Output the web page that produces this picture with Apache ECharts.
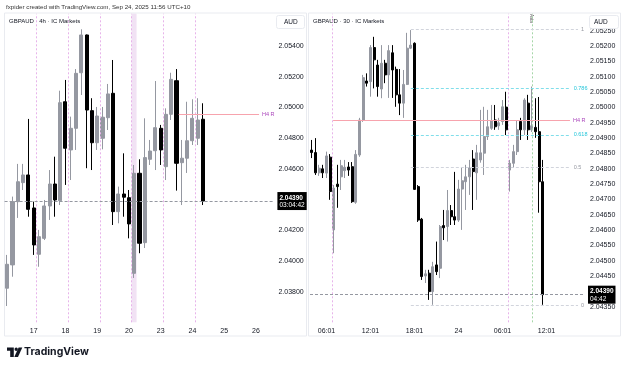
<!DOCTYPE html>
<html>
<head>
<meta charset="utf-8">
<script src="https://cdn.jsdelivr.net/npm/echarts@6/dist/echarts.min.js"></script>
<style>
  html, body { margin: 0; padding: 0; background: #fff; }
  #chart { width: 625px; height: 367px; }
</style>
</head>
<body>
<div id="chart"></div>
<script>
// GBPAUD 4h candles: [open, close, low, high]
const h4Candles = [
  [2.03822, 2.03978, 2.03706, 2.04039],
  [2.03974, 2.04386, 2.03897, 2.04419],
  [2.04386, 2.04516, 2.04280, 2.04632],
  [2.04510, 2.04560, 2.04462, 2.04632],
  [2.04560, 2.04336, 2.04288, 2.04925],
  [2.04345, 2.04104, 2.04039, 2.04386],
  [2.04043, 2.04158, 2.03962, 2.04202],
  [2.04147, 2.04358, 2.04136, 2.04397],
  [2.04358, 2.04501, 2.04267, 2.04592],
  [2.04501, 2.04397, 2.04288, 2.04679],
  [2.04392, 2.05031, 2.04364, 2.05109],
  [2.05037, 2.04734, 2.04495, 2.05179],
  [2.04723, 2.04864, 2.04527, 2.04940],
  [2.04864, 2.05222, 2.04723, 2.05250],
  [2.05226, 2.05472, 2.05081, 2.05509],
  [2.05472, 2.04983, 2.04604, 2.05475],
  [2.04979, 2.04770, 2.04592, 2.05060],
  [2.04770, 2.04944, 2.04723, 2.05003],
  [2.04799, 2.04936, 2.04727, 2.05003],
  [2.04933, 2.05088, 2.04853, 2.05153],
  [2.05092, 2.04321, 2.04234, 2.05309],
  [2.04321, 2.04436, 2.04245, 2.04484],
  [2.04436, 2.04415, 2.04288, 2.04701],
  [2.04412, 2.04241, 2.04147, 2.04462],
  [2.03919, 2.04571, 2.03889, 2.04625],
  [2.04571, 2.04115, 2.04050, 2.04662],
  [2.04119, 2.04673, 2.04084, 2.04929],
  [2.04662, 2.04716, 2.04625, 2.04788],
  [2.04718, 2.04868, 2.04592, 2.05172],
  [2.04864, 2.04723, 2.04625, 2.04886],
  [2.04614, 2.04955, 2.04527, 2.04994],
  [2.04955, 2.05183, 2.04918, 2.05226],
  [2.05174, 2.04636, 2.04458, 2.05250],
  [2.04640, 2.04669, 2.04364, 2.04788],
  [2.04669, 2.04783, 2.04573, 2.05037],
  [2.04783, 2.04929, 2.04755, 2.05053],
  [2.04799, 2.04918, 2.04755, 2.05060],
  [2.04923, 2.04390, 2.04364, 2.05027]
];

// GBPAUD 30m candles: [open, close, low, high]
const m30Candles = [
  [2.04861, 2.04853, 2.04835, 2.04894],
  [2.04853, 2.04787, 2.04780, 2.04900],
  [2.04787, 2.04802, 2.04777, 2.04813],
  [2.04800, 2.04787, 2.04770, 2.04813],
  [2.04786, 2.04842, 2.04770, 2.04856],
  [2.04838, 2.04726, 2.04699, 2.04848],
  [2.04601, 2.04737, 2.04525, 2.04747],
  [2.04750, 2.04742, 2.04673, 2.04813],
  [2.04774, 2.04810, 2.04731, 2.04829],
  [2.04794, 2.04805, 2.04770, 2.04829],
  [2.04806, 2.04796, 2.04777, 2.04822],
  [2.04807, 2.04693, 2.04689, 2.04822],
  [2.04691, 2.04847, 2.04686, 2.04861],
  [2.04845, 2.04959, 2.04839, 2.04966],
  [2.04959, 2.05097, 2.04953, 2.05106],
  [2.05086, 2.05079, 2.05068, 2.05111],
  [2.05084, 2.05195, 2.05035, 2.05203],
  [2.05195, 2.05155, 2.05062, 2.05230],
  [2.05138, 2.05068, 2.05035, 2.05155],
  [2.05060, 2.05144, 2.05030, 2.05203],
  [2.05144, 2.05106, 2.05079, 2.05155],
  [2.05106, 2.05185, 2.05031, 2.05203],
  [2.05178, 2.05122, 2.05031, 2.05203],
  [2.05124, 2.05041, 2.05002, 2.05133],
  [2.05041, 2.05014, 2.04975, 2.05125],
  [2.05014, 2.05075, 2.04966, 2.05122],
  [2.05075, 2.05193, 2.05073, 2.05243],
  [2.05193, 2.05203, 2.05190, 2.05252],
  [2.05209, 2.04733, 2.04731, 2.05212],
  [2.04742, 2.04633, 2.04627, 2.04747],
  [2.04636, 2.04449, 2.04438, 2.04640],
  [2.04451, 2.04458, 2.04428, 2.04471],
  [2.04460, 2.04400, 2.04373, 2.04471],
  [2.04400, 2.04481, 2.04357, 2.04497],
  [2.04487, 2.04465, 2.04454, 2.04563],
  [2.04476, 2.04612, 2.04444, 2.04617],
  [2.04615, 2.04608, 2.04568, 2.04666],
  [2.04612, 2.04664, 2.04563, 2.04731],
  [2.04664, 2.04644, 2.04617, 2.04682],
  [2.04644, 2.04633, 2.04617, 2.04790],
  [2.04633, 2.04734, 2.04627, 2.04764],
  [2.04734, 2.04761, 2.04601, 2.04803],
  [2.04758, 2.04774, 2.04666, 2.04813],
  [2.04774, 2.04803, 2.04715, 2.04829],
  [2.04832, 2.04791, 2.04666, 2.04861],
  [2.04787, 2.04852, 2.04699, 2.04878],
  [2.04829, 2.04852, 2.04820, 2.04992],
  [2.04851, 2.04905, 2.04780, 2.05002],
  [2.04905, 2.04937, 2.04894, 2.04992],
  [2.04932, 2.04957, 2.04927, 2.05008],
  [2.04959, 2.04937, 2.04927, 2.05008],
  [2.04940, 2.04950, 2.04927, 2.04966],
  [2.04954, 2.05002, 2.04943, 2.05024],
  [2.05001, 2.04927, 2.04910, 2.05051],
  [2.04796, 2.04818, 2.04726, 2.04829],
  [2.04818, 2.04856, 2.04803, 2.04878],
  [2.04856, 2.04927, 2.04845, 2.04959],
  [2.04954, 2.04927, 2.04894, 2.04966],
  [2.04927, 2.05024, 2.04910, 2.05030],
  [2.05014, 2.04927, 2.04894, 2.05041],
  [2.04927, 2.04940, 2.04920, 2.05068],
  [2.04935, 2.04921, 2.04901, 2.05030],
  [2.04921, 2.04758, 2.04657, 2.05034],
  [2.04758, 2.04390, 2.04357, 2.04829]
];

const h4DayLabels = ['17', '18', '19', '20', '23', '24', '25', '26'];
const m30TimeLabels = ['06:01', '12:01', '18:01', '24', '06:01', '12:01'];
const lastPrice = 2.0439;
const h4Countdown = '03:04:42';
const m30Countdown = '04:42';
const h4Resistance = 2.04957;
const fibHigh = 2.05254;
const fibLow = 2.04356;
const fibRatios = ['1', '0.786', '0.618', '0.5', '0'];

// layout: slots per axis (candles + empty future space)
const H4_SLOTS = 51, H4_PER_DAY = 6, H4_FIRST_LABEL = 5;
const M30_SLOTS = 75, M30_PER_LABEL = 12, M30_FIRST_LABEL = 4;

const UP = '#9598a1', DOWN = '#000000';
const PINK = '#e7b3ea';
const FONT = 'Liberation Sans, Arial, sans-serif';

const h4Cats = [];
for (let i = 0; i < H4_SLOTS; i++) {
  const k = (i - H4_FIRST_LABEL) / H4_PER_DAY;
  h4Cats.push(Number.isInteger(k) && h4DayLabels[k] ? h4DayLabels[k] : '');
}
const m30Cats = [];
for (let i = 0; i < M30_SLOTS; i++) {
  const k = (i - M30_FIRST_LABEL) / M30_PER_LABEL;
  m30Cats.push(Number.isInteger(k) && m30TimeLabels[k] ? m30TimeLabels[k] : '');
}

const chart = echarts.init(document.getElementById('chart'), null, { renderer: 'canvas' });

function priceLine(slots, countdown) {
  return [
    { coord: [-0.5, lastPrice], lineStyle: { color: '#9598a1', type: [3, 2], width: 1 },
      label: {
        show: true, position: 'end', distance: 3,
        formatter: '{a|' + lastPrice.toFixed(5) + '}\n{b|' + countdown + '}',
        backgroundColor: '#000', padding: [2, 2, 1, 2],
        rich: {
          a: { color: '#fff', fontSize: 6.5, fontFamily: FONT, lineHeight: 7.5, fontWeight: 'bold' },
          b: { color: '#fff', fontSize: 6.5, fontFamily: FONT, lineHeight: 7.5 }
        }
      } },
    { coord: [slots - 0.5, lastPrice] }
  ];
}

function levelLine(x0, x1, y, color, text, textColor, dashed) {
  return [
    { coord: [x0, y], lineStyle: { color: color, width: 1, type: dashed ? [3, 2] : 'solid' },
      label: { show: true, position: 'end', distance: 3, formatter: text, color: textColor, fontSize: 5.5, fontFamily: FONT } },
    { coord: [x1, y] }
  ];
}

function yFmt(lo, hi, hide) {
  return function (v) {
    if (v < lo || v > hi) return '';
    for (const h of hide) if (Math.abs(v - h) < 1e-7) return '';
    return v.toFixed(5);
  };
}

// left panel vertical day separators
const h4Separators = [];
for (let k = 0; k < 6; k++) {
  h4Separators.push({ xAxis: H4_FIRST_LABEL + 0.5 + k * H4_PER_DAY, lineStyle: { color: PINK, type: [2, 2], width: 1 }, label: { show: false } });
}

// fib levels on the right panel
const fibLines = fibRatios.map(function (r) {
  const p = fibLow + parseFloat(r) * (fibHigh - fibLow);
  const teal = r === '0.786' || r === '0.618';
  const endX = r.length > 2 ? 70.6 : (r.length > 1 ? 71.6 : 72.6);
  return levelLine(27, endX, p, teal ? '#80deea' : '#d1d4dc', r, teal ? '#26c6da' : '#9598a1', true);
});

const option = {
  animation: false,
  textStyle: { fontFamily: FONT },
  grid: [
    { left: 4.6, top: 13.8, width: 269.8, height: 308.5 },
    { left: 310, top: 13.8, width: 275, height: 308.5 }
  ],
  xAxis: [
    { type: 'category', gridIndex: 0, data: h4Cats, boundaryGap: true,
      axisLine: { show: false }, axisTick: { show: false }, splitLine: { show: false },
      axisLabel: { interval: 0, fontSize: 7, color: '#131722', margin: 5, fontFamily: FONT } },
    { type: 'value', gridIndex: 0, min: -0.5, max: H4_SLOTS - 0.5, show: false },
    { type: 'category', gridIndex: 1, data: m30Cats, boundaryGap: true,
      axisLine: { show: false }, axisTick: { show: false }, splitLine: { show: false },
      axisLabel: { interval: 0, fontSize: 7, color: '#131722', margin: 5, fontFamily: FONT } },
    { type: 'value', gridIndex: 1, min: -0.5, max: M30_SLOTS - 0.5, show: false }
  ],
  yAxis: [
    { type: 'value', gridIndex: 0, position: 'right', min: 2.036, max: 2.0561, interval: 0.002, scale: true,
      axisLine: { show: false }, axisTick: { show: false }, splitLine: { show: false },
      axisLabel: { fontSize: 7, color: '#131722', margin: 4, fontFamily: FONT, showMinLabel: false, showMaxLabel: false,
        formatter: yFmt(2.0365, 2.0555, [2.044]) } },
    { type: 'value', gridIndex: 1, position: 'right', min: 2.043, max: 2.05305, interval: 0.0005, scale: true,
      axisLine: { show: false }, axisTick: { show: false }, splitLine: { show: false },
      axisLabel: { fontSize: 7, color: '#131722', margin: 5, fontFamily: FONT, showMinLabel: false, showMaxLabel: false,
        formatter: yFmt(2.0432, 2.0528, [2.044]) } }
  ],
  series: [
    { type: 'line', xAxisIndex: 1, yAxisIndex: 0, data: [], silent: true,
      markArea: { silent: true, itemStyle: { color: 'rgba(225, 190, 231, 0.45)' },
        data: [[{ xAxis: 23.5 }, { xAxis: 24.45 }]] },
      markLine: { silent: true, symbol: ['none', 'none'], animation: false,
        data: h4Separators.concat([
          levelLine(32.4, 47.6, h4Resistance, '#f7a3ad', 'H4 R', '#ab47bc', false),
          priceLine(H4_SLOTS, h4Countdown)
        ]) } },
    { type: 'candlestick', xAxisIndex: 0, yAxisIndex: 0, data: h4Candles, barWidth: 3.6,
      itemStyle: { color: UP, color0: DOWN, borderColor: UP, borderColor0: DOWN, borderWidth: 1 } },
    { type: 'line', xAxisIndex: 3, yAxisIndex: 1, data: [], silent: true,
      markLine: { silent: true, symbol: ['none', 'none'], animation: false,
        data: [
          { xAxis: 5.5, lineStyle: { color: PINK, type: [2, 2], width: 1 }, label: { show: false } },
          { xAxis: 53.5, lineStyle: { color: PINK, type: [2, 2], width: 1 }, label: { show: false } },
          { xAxis: 60, lineStyle: { color: '#a5d6a7', type: [2, 2], width: 1 }, label: { show: false } }
        ].concat(fibLines).concat([
          levelLine(5.8, 70.4, h4Resistance, '#f7a3ad', 'H4 R', '#ab47bc', false),
          priceLine(M30_SLOTS, m30Countdown)
        ]) } },
    { type: 'candlestick', xAxisIndex: 2, yAxisIndex: 1, data: m30Candles, barWidth: 2.6,
      itemStyle: { color: UP, color0: DOWN, borderColor: UP, borderColor0: DOWN, borderWidth: 1 } }
  ],
  graphic: [
    { type: 'rect', shape: { x: 4.5, y: 13, width: 302, height: 323 }, style: { fill: 'none', stroke: '#e9ebf0', lineWidth: 1 }, silent: true, z: -1 },
    { type: 'rect', shape: { x: 308.5, y: 13, width: 312, height: 323 }, style: { fill: 'none', stroke: '#e9ebf0', lineWidth: 1 }, silent: true, z: -1 },
    { type: 'text', left: 6, top: 4, style: { text: 'fxpider created with TradingView.com, Sep 24, 2025 11:56 UTC+10', fontSize: 6.2, fill: '#333', fontFamily: FONT } },
    { type: 'text', left: 9, top: 18.5, style: { text: 'GBPAUD · 4h · IC Markets', fontSize: 6, fill: '#131722', fontFamily: FONT } },
    { type: 'text', left: 313, top: 18.5, style: { text: 'GBPAUD · 30 · IC Markets', fontSize: 6, fill: '#131722', fontFamily: FONT } },
    { type: 'rect', shape: { x: 276.5, y: 15.5, width: 28, height: 13, r: 2 }, style: { fill: '#fff', stroke: '#e9ebf0' }, z: 100 },
    { type: 'text', left: 284, top: 19, style: { text: 'AUD', fontSize: 6.5, fill: '#131722', fontFamily: FONT }, z: 101 },
    { type: 'rect', shape: { x: 589.5, y: 15.5, width: 29, height: 13, r: 2 }, style: { fill: '#fff', stroke: '#e9ebf0' }, z: 100 },
    { type: 'text', left: 594, top: 19, style: { text: 'AUD', fontSize: 6.5, fill: '#131722', fontFamily: FONT }, z: 101 },
    { type: 'text', x: 534, y: 14, rotation: -Math.PI / 2, style: { text: 'Asia', fontSize: 4.5, fill: '#555', fontFamily: FONT } },
    // TradingView logo mark
    { type: 'polygon', shape: { points: [[7, 347.5], [13.8, 347.5], [13.8, 357], [10.2, 357], [10.2, 350.8], [7, 350.8]] }, style: { fill: '#131722' } },
    { type: 'circle', shape: { cx: 16.2, cy: 349.2, r: 1.7 }, style: { fill: '#131722' } },
    { type: 'polygon', shape: { points: [[18.6, 347.5], [22.3, 347.5], [18, 357], [14.3, 357]] }, style: { fill: '#131722' } },
    { type: 'text', left: 24, top: 346, style: { text: 'TradingView', fontSize: 10.5, fontWeight: 'bold', fill: '#131722', fontFamily: 'Inter, Liberation Sans, sans-serif' } }
  ]
};

chart.setOption(option);
</script>
</body>
</html>
